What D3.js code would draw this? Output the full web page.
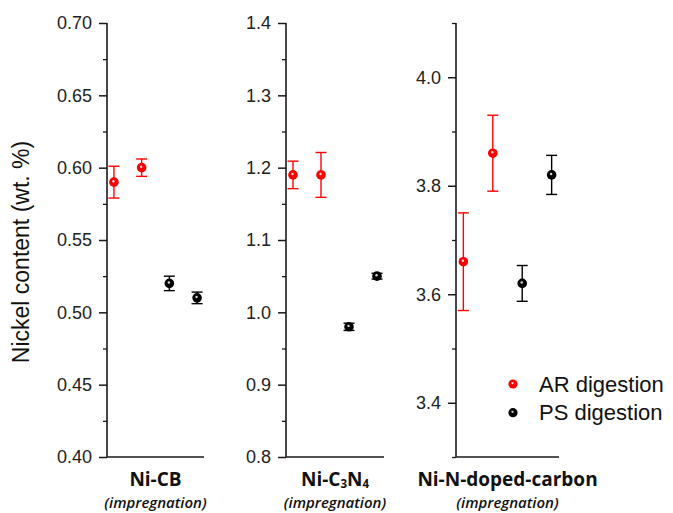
<!DOCTYPE html>
<html>
<head>
<meta charset="utf-8">
<script src="https://cdn.jsdelivr.net/npm/d3@7"></script>
<style>
  body { margin: 0; background: #fff; }
  .tick text { font-family: "Liberation Sans", Arial, sans-serif; }
</style>
</head>
<body>
<div id="chart"></div>
<script>
const width = 673;
const height = 513;

// data
const panelNames = ["Ni-CB", "Ni-C3N4", "Ni-N-doped-carbon"];
const subLabels = ["(impregnation)", "(impregnation)", "(impregnation)"];
const arValues = [[0.59, 0.60], [1.19, 1.19], [3.66, 3.86]];
const arErrors = [[0.011, 0.006], [0.019, 0.031], [0.09, 0.07]];
const psValues = [[0.52, 0.51], [0.98, 1.05], [3.62, 3.82]];
const psErrors = [[0.005, 0.004], [0.005, 0.004], [0.033, 0.036]];
const yDomains = [[0.40, 0.70], [0.8, 1.4], [3.3, 4.1]];
const majorTicks = [
  [0.40, 0.45, 0.50, 0.55, 0.60, 0.65, 0.70],
  [0.8, 0.9, 1.0, 1.1, 1.2, 1.3, 1.4],
  [3.4, 3.6, 3.8, 4.0]
];
const minorTicks = [
  [0.425, 0.475, 0.525, 0.575, 0.625, 0.675],
  [0.85, 0.95, 1.05, 1.15, 1.25, 1.35],
  [3.3, 3.5, 3.7, 3.9, 4.1]
];
const tickFormats = [".2f", ".1f", ".1f"];
const legendLabels = ["AR digestion", "PS digestion"];
const legendColors = ["#ff0000", "#000"];

// layout of each panel (pixel boxes)
const boxes = [
  { left: 107, right: 204 },
  { left: 286, right: 384 },
  { left: 456, right: 559 }
];
const plotTop = 23, plotBottom = 457;

const svg = d3.select("#chart")
    .append("svg")
    .attr("width", width)
    .attr("height", height);

const dark = "#1a1a1a";

// little shaded ball marker
function ball(sel, r) {
  sel.append("circle").attr("r", r).attr("fill", d => d.color);
  sel.append("circle")
      .attr("cx", -0.5).attr("cy", -0.9)
      .attr("r", r * 0.25)
      .attr("fill", "#fff")
      .attr("opacity", 0.85);
}

panelNames.forEach((name, i) => {
  const box = boxes[i];
  const x = d3.scaleLinear().domain([0.75, 4.25]).range([box.left, box.right]);
  const y = d3.scaleLinear().domain(yDomains[i]).range([plotBottom, plotTop]);

  const g = svg.append("g");

  // minor ticks
  g.append("g")
      .attr("transform", `translate(${box.left},0)`)
      .call(d3.axisLeft(y).tickValues(minorTicks[i]).tickSize(4).tickFormat(""))
      .call(a => a.select(".domain").remove())
      .selectAll("line").attr("stroke", dark).attr("stroke-width", 1.3);

  // major ticks + labels
  const yAxis = g.append("g")
      .attr("transform", `translate(${box.left},0)`)
      .call(d3.axisLeft(y).tickValues(majorTicks[i]).tickSize(8).tickPadding(7)
            .tickFormat(d3.format(tickFormats[i])));
  yAxis.select(".domain").remove();
  yAxis.selectAll("line").attr("stroke", dark).attr("stroke-width", 1.5);
  yAxis.selectAll("text")
      .style("font-size", "18px")
      .attr("fill", "#222");

  // axis lines
  g.append("line")
      .attr("x1", box.left).attr("x2", box.left)
      .attr("y1", y(yDomains[i][1])).attr("y2", y(yDomains[i][0]))
      .attr("stroke", dark).attr("stroke-width", 1.6);
  g.append("line")
      .attr("x1", box.left).attr("x2", box.right)
      .attr("y1", plotBottom).attr("y2", plotBottom)
      .attr("stroke", dark).attr("stroke-width", 1.6);

  const points = [];
  arValues[i].forEach((v, j) => points.push({ pos: j + 1, v: v, e: arErrors[i][j], color: "#ff0000" }));
  psValues[i].forEach((v, j) => points.push({ pos: j + 3, v: v, e: psErrors[i][j], color: "#000" }));

  const bars = g.selectAll(".err")
      .data(points)
      .enter()
      .append("g")
      .attr("class", "err")
      .attr("stroke", d => d.color)
      .attr("stroke-width", 1.4);
  bars.append("line")
      .attr("x1", d => x(d.pos)).attr("x2", d => x(d.pos))
      .attr("y1", d => y(d.v + d.e)).attr("y2", d => y(d.v - d.e));
  bars.append("line")
      .attr("x1", d => x(d.pos) - 5.5).attr("x2", d => x(d.pos) + 5.5)
      .attr("y1", d => y(d.v + d.e)).attr("y2", d => y(d.v + d.e));
  bars.append("line")
      .attr("x1", d => x(d.pos) - 5.5).attr("x2", d => x(d.pos) + 5.5)
      .attr("y1", d => y(d.v - d.e)).attr("y2", d => y(d.v - d.e));

  g.selectAll(".dot")
      .data(points)
      .enter()
      .append("g")
      .attr("class", "dot")
      .attr("transform", d => `translate(${x(d.pos)},${y(d.v)})`)
      .call(ball, 4.8);

  // panel labels
  const cx = (box.left + box.right) / 2;
  const lab = g.append("text")
      .attr("x", cx)
      .attr("y", 486)
      .attr("text-anchor", "middle")
      .style("font-family", "'Open Sans', sans-serif")
      .style("font-weight", "bold")
      .style("font-size", "19px")
      .attr("fill", "#111");
  if (name === "Ni-C3N4") {
    lab.append("tspan").text("Ni-C");
    lab.append("tspan").attr("dy", 2).style("font-size", "11.5px").text("3");
    lab.append("tspan").attr("dy", -2).text("N");
    lab.append("tspan").attr("dy", 2).style("font-size", "11.5px").text("4");
  } else {
    lab.text(name);
  }
  g.append("text")
      .attr("x", cx)
      .attr("y", 508)
      .attr("text-anchor", "middle")
      .style("font-family", "'Open Sans', sans-serif")
      .style("font-style", "italic")
      .style("font-weight", 600)
      .style("font-size", "15px")
      .attr("fill", "#111")
      .text(subLabels[i]);
});

// y axis title
svg.append("text")
    .attr("transform", "translate(29, 252) rotate(-90)")
    .attr("text-anchor", "middle")
    .style("font-family", "'Liberation Sans', Arial, sans-serif")
    .style("font-size", "23px")
    .attr("fill", "#111")
    .text("Nickel content (wt. %)");

// legend
const legend = svg.append("g").attr("transform", "translate(513, 384)");
legend.selectAll(".legend")
    .data(legendLabels.map((d, i) => ({ label: d, color: legendColors[i] })))
    .enter()
    .append("g")
    .attr("class", "legend")
    .attr("transform", (d, i) => `translate(0, ${i * 28.7})`);
legend.selectAll(".legend")
    .append("g")
    .call(ball, 4.6);
legend.selectAll(".legend")
    .append("text")
    .attr("x", 26)
    .attr("dy", "0.35em")
    .style("font-family", "'Liberation Sans', Arial, sans-serif")
    .style("font-size", "22px")
    .attr("fill", "#111")
    .text(d => d.label);
</script>
</body>
</html>
